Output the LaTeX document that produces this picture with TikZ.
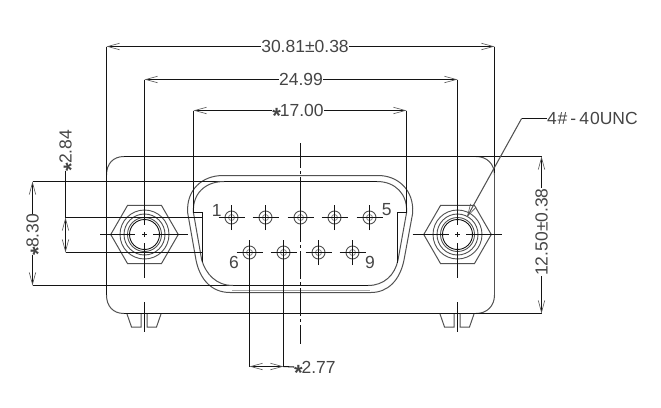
\documentclass[tikz,border=0pt]{standalone}
\usepackage{fontspec}
\setmainfont{Liberation Sans}
\usetikzlibrary{arrows.meta,shapes.geometric}
\definecolor{ink}{gray}{0.08}
\definecolor{shell}{gray}{0.32}
\definecolor{txt}{gray}{0.27}
\newcommand{\stx}{\smash{\fontsize{22}{22}\selectfont\raisebox{-0.33em}{\textbf{*}}}\kern-1pt}
\tikzset{
  dimline/.style={draw=ink,line width=1.05pt},
  barbs/.style={dimline,{Straight Barb[length=12pt,width=6.5pt,line width=0.6pt,color=shell]}-{Straight Barb[length=12pt,width=6.5pt,line width=0.6pt,color=shell]}},
  barbstart/.style={dimline,{Straight Barb[length=12pt,width=6.5pt,line width=0.6pt,color=shell]}-},
  outl/.style={draw=shell,line width=1pt},
  thin outl/.style={draw=shell!70,line width=0.8pt},
  dimtext/.style={text=txt,font=\fontsize{17.5}{17.5}\selectfont,inner sep=0pt,outer sep=0pt},
  pinlabel/.style={text=txt,font=\fontsize{17.5}{17.5}\selectfont,inner sep=0pt},
  hexnut/.style={regular polygon,regular polygon sides=6,minimum size=67.5pt,inner sep=0pt,outer sep=0pt,draw=shell,line width=1pt},
  pinhole/.style={circle,minimum size=13pt,inner sep=0pt,outer sep=0pt,draw=shell,line width=0.9pt},
  centerdash/.style={draw=ink,line width=1.05pt,dash pattern=on 28pt off 3pt on 3pt off 3pt,dash phase=3pt}
}
\begin{document}
\begin{tikzpicture}[x=1pt,y=-1pt]
\useasboundingbox (0,0) rectangle (661,407);
% body
\draw[outl] (124,156.5) .. controls (113,156.5) and (106.5,164) .. (106.5,175);
\draw[outl] (476,156.5) .. controls (487,156.5) and (494.5,164) .. (494.5,175);
\draw[outl] (106.5,295) .. controls (106.5,306) and (113,313.5) .. (124,313.5);
\draw[outl] (494.5,295) .. controls (494.5,306) and (487,313.5) .. (476,313.5);
\draw[dimline] (124,156.5) -- (541.5,156.5);
\draw[dimline] (124,313.5) -- (541.5,313.5);
\draw[dimline] (106.5,46.5) -- (106.5,295);
\draw[dimline] (494.5,46.5) -- (494.5,173);
\draw[outl] (494.5,173) -- (494.5,295);
% feet
\draw[outl] (127,314) -- (131.5,327) -- (141,327) -- (141,314);
\draw[outl] (147,314) -- (147,327) -- (156.5,327) -- (161,314);
\draw[outl] (440,314) -- (444.5,327) -- (454,327) -- (454,314);
\draw[outl] (460,314) -- (460,327) -- (469.5,327) -- (474,314);
% shell outer
\draw[outl] (223,175.5) -- (378,175.5)
  .. controls (398,175.5) and (414,190) .. (412.7,213)
  -- (404,260) .. controls (400,280) and (388,292.5) .. (371,292.5)
  -- (230,292.5) .. controls (212,292.5) and (200,280) .. (196,260)
  -- (187.7,213) .. controls (186,190) and (202,175.5) .. (223,175.5) -- cycle;
\draw[draw=shell!50,line width=1pt] (232,290.5) -- (370,290.5);
% shell inner
\draw[dimline] (32.5,181.5) -- (224,181.5);
\draw[dimline] (224,181.5) -- (377,181.5);
\draw[outl] (377,181.5) .. controls (395,181.5) and (408,194) .. (406.5,213)
  -- (398,260) .. controls (395,275) and (384,285.5) .. (368,285.5);
\draw[dimline] (32.5,285.5) -- (368,285.5);
\draw[outl] (233,285.5) .. controls (216,285.5) and (206,274) .. (201.7,260)
  -- (193.5,213) .. controls (192,194) and (205,181.5) .. (224,181.5);
% key slots
\draw[dimline] (193.5,110.5) -- (193.5,212.5) -- (202.5,212.5) -- (202.5,262);
\draw[dimline] (406.5,110.5) -- (406.5,212.5) -- (397.5,212.5) -- (397.5,263);
% hexes
\node[hexnut] (hexL) at (144.5,234.5) {};
\node[hexnut] (hexR) at (457.5,234.5) {};
\foreach \h in {hexL,hexR}{
  \foreach \r/\c in {24.5/shell,20.5/shell,17/shell,15/ink}
    \draw[draw=\c,line width=0.9pt] (\h) circle[radius=\r];
  \draw[dimline] ([xshift=-2.5pt]\h.center) -- ([xshift=2.5pt]\h.center);
  \draw[dimline] ([yshift=-2.5pt]\h.center) -- ([yshift=2.5pt]\h.center);
}
% centre lines of the nuts
\draw[dimline] (100,234.5) -- (135,234.5) (153,234.5) -- (188,234.5);
\draw[dimline] (412.7,234.5) -- (449,234.5) (466,234.5) -- (501.7,234.5);
\draw[dimline] (144.5,79.5) -- (144.5,225) (144.5,243) -- (144.5,278) (144.5,302) -- (144.5,332);
\draw[dimline] (457.5,79.5) -- (457.5,225) (457.5,243) -- (457.5,278) (457.5,302) -- (457.5,332);
% centre dash-dot
\draw[centerdash] (300.5,143) -- (300.5,344);
% pins
\foreach \n/\x/\y in {p1/231.5/217.5,p2/265.5/217.5,p3/300.5/217.5,p4/334.5/217.5,p5/369.5/217.5,p6/249.5/252.5,p7/283.5/252.5,p8/318.5/252.5,p9/352.5/252.5}{
  \node[pinhole] (\n) at (\x,\y) {};
  \draw[thin outl] (\n) circle[radius=3];
  \draw[dimline] ([xshift=-13pt]\n.center) -- ([xshift=13pt]\n.center);
  \draw[dimline] ([yshift=-12.5pt]\n.center) -- ([yshift=12.5pt]\n.center);
}
% 2.84 lines
\draw[dimline] (65.5,217.5) -- (202,217.5);
\draw[dimline] (65.5,252.5) -- (202,252.5);
% top dims
\node[dimtext] (d30) at (305,46.5) {30.81±0.38};
\coordinate (a30) at (106.5,46.5); \coordinate (b30) at (494.5,46.5);
\draw[barbstart] (a30) -- (d30.west);
\draw[barbstart] (b30) -- (d30.east);
\node[dimtext] (d24) at (301,79.5) {24.99};
\coordinate (a24) at (144.5,79.5); \coordinate (b24) at (457.5,79.5);
\draw[barbstart] (a24) -- (d24.west);
\draw[barbstart] (b24) -- (d24.east);
\node[dimtext] (d17) at (298,110.5) {\stx17.00};
\coordinate (a17) at (193.5,110.5); \coordinate (b17) at (406.5,110.5);
\draw[barbstart] (a17) -- (d17.west);
\draw[barbstart] (b17) -- (d17.east);
% left dims
\node[dimtext,rotate=90] (d830) at (32.5,234.5) {\stx8.30};
\coordinate (a830) at (32.5,181.5); \coordinate (b830) at (32.5,285.5);
\draw[barbstart] (a830) -- (d830.east);
\draw[barbstart] (b830) -- (d830.west);
\node[dimtext,rotate=90] (d284) at (65.5,150.5) {\stx2.84};
\coordinate (a284) at (65.5,217.5); \coordinate (b284) at (65.5,252.5);
\draw[barbs] (a284) -- (b284);
\draw[dimline] (a284) -- (d284.west);
% right dim
\node[dimtext,rotate=90] (d125) at (541.5,232) {12.50±0.38};
\coordinate (a125) at (541.5,156.5); \coordinate (b125) at (541.5,313.5);
\draw[barbstart] (a125) -- (d125.east);
\draw[barbstart] (b125) -- (d125.west);
% pitch dim
\draw[dimline] (p6.center) ++(0,12) -- (249.5,366.5);
\draw[dimline] (p7.center) ++(0,12) -- (283.5,366.5);
\node[dimtext,anchor=west] (d277) at (294,367) {\stx2.77};
\coordinate (a277) at (249.5,366.5); \coordinate (b277) at (283.5,366.5);
\draw[barbs] (a277) -- (b277);
\draw[dimline] (b277) -- (d277.west);
% leader
\node[dimtext,anchor=west] (thread) at (547,118.5) {4\kern1pt\#\kern3pt-\kern3pt4\kern1pt0UNC};
\coordinate (tip) at (467,217); \coordinate (knee) at (521.6,118.5);
\draw[barbstart,draw=shell] (tip) -- (knee);
\draw[dimline] (knee) -- (thread.west);
% pin labels
\node[pinlabel] (l1) at (216.7,210) {1};
\node[pinlabel] (l5) at (386.7,210) {5};
\node[pinlabel] (l6) at (234,262) {6};
\node[pinlabel] (l9) at (370,262) {9};
\end{tikzpicture}
\end{document}
